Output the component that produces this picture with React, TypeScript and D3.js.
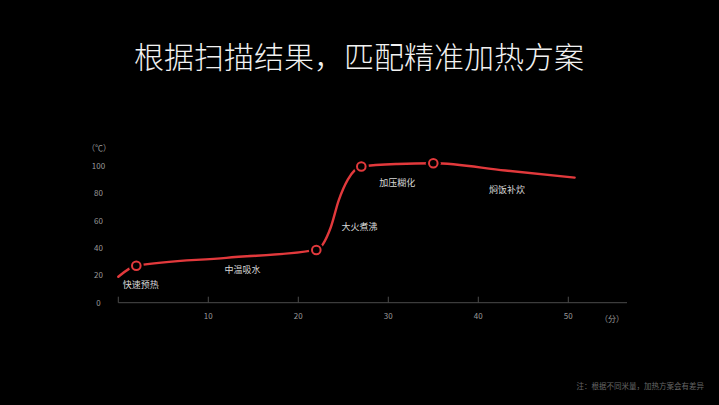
import { useEffect, useRef } from "react";
import * as d3 from "d3";

const W = 719;
const H = 405;

// temperature curve (minutes, °C)
const curveMinutes = [0, 2, 12, 22, 23.6, 24.5, 25.5, 27, 31, 35, 43, 50.7];
const curveTemps = [19, 27, 32.8, 38.6, 55, 75, 90, 99.6, 101.5, 102, 96.7, 91.5];

// stage markers
const markerMinutes = [2, 22, 27, 35];
const markerTemps = [27, 38.6, 99.6, 102];

const stageNames = ["快速预热", "中温吸水", "大火煮沸", "加压糊化", "焖饭补炊"];
const stageMinutes = [0.5, 11.8, 24.8, 29, 41.2];
const stageTemps = [10.4, 21.4, 53.2, 85.7, 80.6];

const xTicks = [10, 20, 30, 40, 50];
const yTicks = [0, 20, 40, 60, 80, 100];

const FONT = "'Noto Sans CJK SC', 'Noto Sans', sans-serif";
const RED = "#e2393c";

export default function App() {
  const ref = useRef<SVGSVGElement | null>(null);

  useEffect(() => {
    const svg = d3.select(ref.current!);
    svg.selectAll("*").remove();

    svg.append("rect").attr("width", W).attr("height", H).attr("fill", "#000");

    const x = d3.scaleLinear().domain([0, 50]).range([118.3, 568.3]);
    const y = d3.scaleLinear().domain([0, 100]).range([302.7, 166]);

    svg
      .append("text")
      .attr("x", 359)
      .attr("y", 68)
      .attr("text-anchor", "middle")
      .style("font-family", FONT)
      .style("font-size", "30px")
      .style("font-weight", 300)
      .style("fill", "#f2f2f2")
      .text("根据扫描结果，匹配精准加热方案");

    // x axis
    svg
      .append("line")
      .attr("x1", x(0))
      .attr("x2", 627)
      .attr("y1", y(0))
      .attr("y2", y(0))
      .attr("stroke", "#4a4a4a")
      .attr("stroke-width", 1);

    svg
      .append("g")
      .selectAll("line")
      .data([0, ...xTicks])
      .join("line")
      .attr("x1", (d) => x(d))
      .attr("x2", (d) => x(d))
      .attr("y1", y(0))
      .attr("y2", y(0) - 6)
      .attr("stroke", "#4a4a4a");

    svg
      .append("g")
      .selectAll("text")
      .data(xTicks)
      .join("text")
      .attr("x", (d) => x(d))
      .attr("y", 319)
      .attr("text-anchor", "middle")
      .style("font-family", FONT)
      .style("font-size", "8px")
      .style("fill", "#9a9a9a")
      .text((d) => String(d));

    svg
      .append("text")
      .attr("x", 612)
      .attr("y", 321.5)
      .attr("text-anchor", "middle")
      .style("font-family", FONT)
      .style("font-size", "8px")
      .style("fill", "#9a9a9a")
      .text("（分）");

    // y labels
    svg
      .append("g")
      .selectAll("text")
      .data(yTicks)
      .join("text")
      .attr("x", 98.5)
      .attr("y", (d) => y(d) + 3)
      .attr("text-anchor", "middle")
      .style("font-family", FONT)
      .style("font-size", "8px")
      .style("fill", "#9a9a9a")
      .text((d) => String(d));

    svg
      .append("text")
      .attr("x", 99)
      .attr("y", 151)
      .attr("text-anchor", "middle")
      .style("font-family", FONT)
      .style("font-size", "8px")
      .style("fill", "#9a9a9a")
      .text("（℃）");

    // curve
    const pts = curveMinutes.map((m, i) => [m, curveTemps[i]] as [number, number]);
    const line = d3
      .line<[number, number]>()
      .x((d) => x(d[0]))
      .y((d) => y(d[1]))
      .curve(d3.curveMonotoneX);

    svg
      .append("path")
      .attr("d", line(pts)!)
      .attr("fill", "none")
      .attr("stroke", RED)
      .attr("stroke-width", 2.4)
      .attr("stroke-linecap", "round");

    const marks = markerMinutes.map((m, i) => [m, markerTemps[i]] as [number, number]);
    svg
      .append("g")
      .selectAll("circle")
      .data(marks)
      .join("circle")
      .attr("cx", (d) => x(d[0]))
      .attr("cy", (d) => y(d[1]))
      .attr("r", 7.5)
      .attr("fill", "#000");

    svg
      .append("g")
      .selectAll("circle")
      .data(marks)
      .join("circle")
      .attr("cx", (d) => x(d[0]))
      .attr("cy", (d) => y(d[1]))
      .attr("r", 4.3)
      .attr("fill", "#000")
      .attr("stroke", RED)
      .attr("stroke-width", 2);

    // stage labels
    svg
      .append("g")
      .selectAll("text")
      .data(stageNames)
      .join("text")
      .attr("x", (_, i) => x(stageMinutes[i]))
      .attr("y", (_, i) => y(stageTemps[i]))
      .style("font-family", FONT)
      .style("font-size", "9px")
      .style("fill", "#d8d8d8")
      .text((d) => d);

    svg
      .append("text")
      .attr("x", 704)
      .attr("y", 389)
      .attr("text-anchor", "end")
      .style("font-family", FONT)
      .style("font-size", "7.5px")
      .style("fill", "#666")
      .text("注：根据不同米量，加热方案会有差异");
  }, []);

  return (
    <svg
      ref={ref}
      width={W}
      height={H}
      style={{ position: "fixed", left: 0, top: 0, display: "block" }}
    />
  );
}
